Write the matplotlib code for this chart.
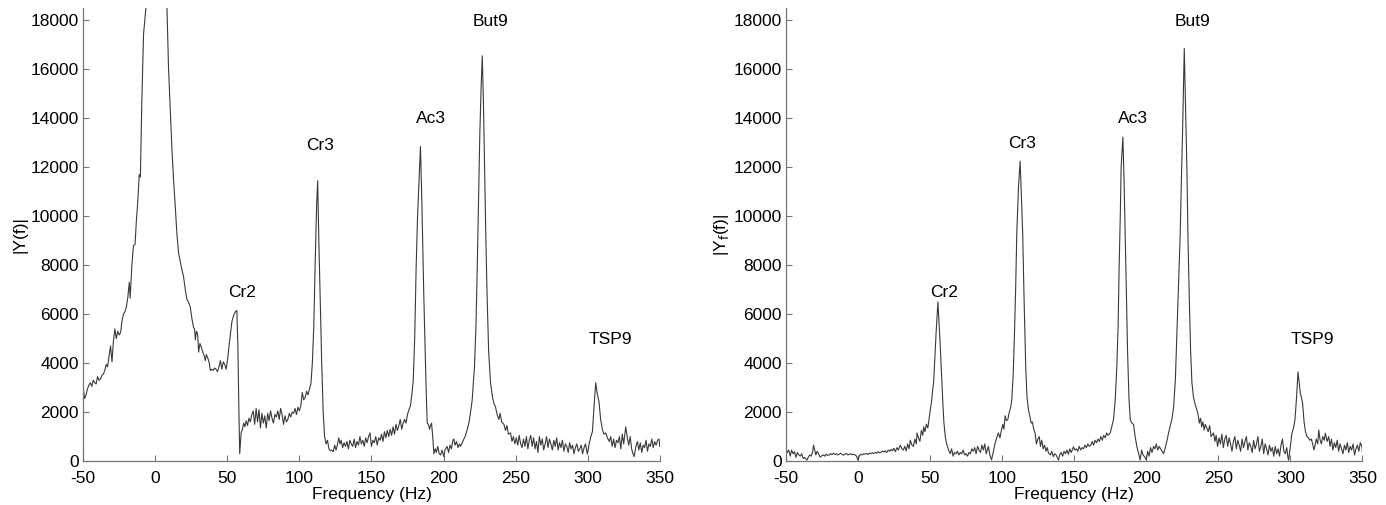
import matplotlib.pyplot as plt

# ---- Left panel: raw spectrum |Y(f)| ----
freq_raw = [
    -50, -49, -48, -47, -46, -45, -44, -43, -42, -41, -40, -39, -38, -37, -36, -35,
    -34, -33, -32, -31, -30, -29, -28, -27, -26, -25, -24, -23, -22, -21, -20, -19,
    -18, -17.4, -16.2, -15.1, -14, -13, -12.2, -11.1, -10.3, -9.3, -8.1, -6.3, -3, 0,
    3, 8.1, 9.2, 10.5, 11.6, 12.8, 13.9, 15, 16.2, 17.5, 18.6, 19.7, 21, 22, 23, 24.3,
    25.5, 26.6, 27.3, 27.8, 28.6, 29.4, 30.1, 31, 32, 33, 34, 34.7, 35.5, 36.5, 37.5,
    38.2, 39.2, 40.2, 41.2, 42.2, 43.2, 44.2, 45.2, 46.2, 47.2, 48.2, 49.2, 50.2, 51.2,
    52.2, 53.2, 54.4, 55.6, 56.6, 57.3, 58, 58.6, 59.6, 60.5, 61.3, 62.2, 63.1, 64, 65,
    66, 67, 68, 69, 70, 71, 72, 73, 74, 75, 76, 77, 78, 79, 80, 81, 82, 83, 84, 85, 86,
    87, 88, 89, 90, 91, 92, 93, 94, 95, 96, 97, 98, 99, 100, 101, 102, 103, 104, 105,
    106, 107, 108, 109, 110, 111, 112, 112.7, 113.5, 114.5, 115.5, 116.5, 117.5, 118.5,
    119.5, 120.5, 121.5, 122.5, 123.5, 124.5, 125.5, 126.5, 127.3, 128.2, 129, 130, 131,
    132, 133, 134, 135, 136, 137, 138, 139, 140, 141, 142, 143, 144, 145, 146, 147, 148,
    149, 150, 151, 152, 153, 154, 155, 156, 157, 158, 159, 160, 161, 162, 163, 164, 165,
    166, 167, 168, 169, 170, 171, 172, 173, 174, 175, 176, 177, 178, 179, 180, 181, 182,
    183, 184, 185, 185.5, 186.3, 187, 188, 188.7, 189.5, 190.3, 191, 191.7, 192.5, 193.3,
    194.2, 195, 196, 197, 198, 199, 200.2, 201, 202.5, 203.5, 204.5, 205.5, 206.5, 207.2,
    208, 209, 210, 211, 211.8, 213, 214.1, 215, 216.5, 217.6, 219, 219.9, 220.8, 221.5,
    222.5, 223.4, 224.3, 225.2, 226.1, 226.9, 227.7, 228.5, 229.4, 230.3, 231.3, 232.6,
    234, 235, 236.1, 237.2, 238.4, 239.3, 240.3, 241.9, 243, 244, 245, 246.5, 247.5,
    248.5, 249.5, 250.5, 251.5, 252.5, 253.5, 254.5, 255.5, 256.5, 257.5, 258.5, 259.5,
    260.5, 261.5, 262.5, 263.5, 264.5, 265.5, 266.5, 267.5, 268.5, 269.5, 270.5, 271.5,
    272.5, 273.5, 274.5, 275.5, 276.5, 277.5, 278.5, 279.5, 280.5, 281.5, 282.5, 283.5,
    284.5, 285.5, 286.5, 287.5, 288.5, 289.5, 290.5, 291.5, 292.5, 293.5, 294.5, 295.5,
    296.5, 297.5, 298.5, 299.8, 301, 302.2, 303.3, 304.5, 305.6, 306.5, 307.9, 309,
    310.2, 311.2, 312.5, 313.7, 315, 316, 317, 318, 319, 320, 321, 322, 323, 324, 325,
    326.4, 327.5, 328.5, 329.5, 330.5, 331.2, 332.2, 333.5, 334.5, 335.5, 336.5, 337.5,
    338.5, 339.5, 340.5, 341.5, 342.5, 343.5, 344.5, 345.5, 346.5, 347.5, 348.5, 349.5,
    350,
]
amp_raw = [
    2980, 2550, 2700, 2950, 3100, 3200, 3050, 3300, 3200, 3150, 3450, 3300, 3350, 3500, 3550, 3700,
    3950, 3850, 4300, 4700, 4050, 4900, 5400, 5000, 5300, 5150, 5250, 5750, 6000, 6100, 6300, 6700,
    7300, 6650, 8000, 8800, 8850, 9900, 10500, 11700, 11600, 14700, 17450, 18600, 26000, 30000,
    26000, 18600, 16100, 14200, 12700, 11400, 10400, 9300, 8500, 8100, 7800, 7500, 6950, 6600, 6500, 6300,
    5800, 5450, 5400, 4950, 5300, 5200, 4450, 4800, 4650, 4450, 4300, 4100, 4350, 4200, 4000,
    3700, 3750, 3700, 3800, 3750, 3650, 3850, 4100, 3750, 4050, 3950, 3750, 4150, 4700,
    5200, 5700, 5950, 6100, 6150, 4800, 2200, 300, 1150, 1300, 1550, 1400, 1650, 1450, 1750,
    1600, 1900, 2050, 1500, 2150, 1600, 2100, 1350, 1950, 1550, 1850, 1350, 1950, 1650, 2050, 1750, 1550, 1900, 1800, 2050, 1700,
    2150, 1900, 1500, 1850, 1600, 1700, 1950, 1800, 2000, 1950, 2150, 1900, 2200, 2050, 2250, 2800, 2500, 2600, 2850,
    2700, 2950, 3150, 4000, 5500, 8200, 10500, 11450, 9000, 6500, 4000, 2000, 1000, 700,
    850, 500, 420, 450, 380, 650, 450, 700, 950, 700, 850, 550, 750,
    600, 800, 500, 850, 700, 600, 900, 550, 800, 650, 1000, 700, 850, 600, 950, 750, 1000,
    1150, 600, 850, 750, 1000, 650, 950, 850, 1100, 800, 1200, 950, 1250, 1000, 1300, 1050, 1400,
    1100, 1500, 1250, 1450, 1700, 1300, 1550, 1700, 1550, 1900, 2100, 2250, 2700, 3300, 5000, 7900, 10000,
    11400, 12850, 10500, 9000, 6800, 5200, 2800, 1550, 1500, 1300, 1450, 1550, 1000, 300,
    500, 350, 600, 300, 250, 450, 180, 450, 600, 350, 650, 500, 850, 900,
    650, 800, 550, 700, 600, 750, 900, 1000, 1300, 1550, 2100, 2500, 3300, 3850,
    5500, 7900, 10700, 13400, 15300, 16550, 14600, 12000, 9000, 6600, 4500, 3200,
    2600, 2350, 2200, 1900, 1700, 1950, 1600, 1500, 1250, 1450, 1100, 1150, 800,
    1000, 700, 950, 650, 1050, 700, 550, 900, 600, 1000, 500, 850,
    1050, 600, 950, 500, 800, 350, 1000, 650, 900, 450, 700, 1000,
    550, 900, 700, 450, 850, 600, 950, 450, 750, 550, 850, 400,
    700, 600, 350, 750, 500, 650, 300, 550, 700, 400, 500, 650,
    300, 550, 700, 280, 700, 1000, 1200, 2300, 3200, 2800, 2400, 1700,
    1300, 1100, 1150, 950, 800, 1000, 600, 900, 550, 850, 750, 1000, 500, 1100, 700,
    1400, 950, 650, 1000, 500, 350, 180, 600, 800, 450, 750, 350,
    650, 550, 850, 400, 700, 600, 900, 550, 800, 650, 850, 900,
    600,
]

# ---- Right panel: filtered spectrum |Y_f(f)| ----
freq_filt = [
    -50, -49, -48, -47, -46, -45, -44, -43, -42, -41, -40, -39, -38, -37, -36, -35.4,
    -34.5, -33.5, -32.5, -31.5, -30.8, -30, -29.2, -28.3, -27.3, -26.2, -25, -24, -23,
    -22, -21, -20, -19, -18, -17, -16, -15, -14, -13, -12, -11, -10, -9, -8, -7, -6, -5,
    -4, -3, -2, -1, 0, 1, 2, 3, 4, 5, 6, 7, 8, 9, 10, 11, 12, 13, 14, 15, 16, 17, 18, 19,
    20, 21, 22, 23, 24, 25, 26, 27, 28, 29.4, 30.5, 31.5, 32.5, 33.5, 34.5, 35.5, 36.3,
    37.5, 38.5, 39.5, 40.5, 41, 42, 43, 44, 45, 45.6, 46.5, 47.5, 48.5, 49.5, 50.2, 51,
    52, 52.5, 53.5, 54.2, 55.5, 56.3, 57.2, 58.8, 59.6, 60.6, 61.5, 62.9, 64, 65, 66, 67,
    68, 69, 70, 71, 72, 73, 74, 75, 76, 77, 78, 79, 80, 81, 82, 83, 84, 85, 86, 87, 88,
    89, 90.5, 91.5, 92.7, 94, 95, 96, 97.4, 98.5, 99.5, 100.5, 101.3, 102.1, 103, 104,
    105, 106, 106.7, 107.7, 108.6, 109.4, 110.2, 111.4, 112.5, 113.3, 114.3, 115.3,
    116.4, 117.3, 118.3, 119.2, 120.2, 121, 122, 122.9, 123.8, 124.8, 125.8, 126.6,
    127.5, 128.5, 129.5, 130.5, 131.3, 132.2, 133.5, 134.5, 135.5, 136.5, 137.5, 138.3,
    139.1, 140, 141, 142, 143, 144, 145, 146, 147, 148, 149.5, 150.5, 151.5, 152.5,
    153.5, 154.5, 155.5, 156.5, 157.5, 158.5, 159.5, 160.5, 161.5, 162.5, 163.5, 164.5,
    165.5, 166.5, 167.5, 168.5, 169.5, 170.5, 171.5, 172.5, 173.5, 175, 176.3, 177.3,
    178.5, 179.6, 180.5, 181.2, 182, 182.6, 183.8, 184.6, 185.4, 186.2, 187, 188, 188.9,
    190, 191.2, 192.3, 193.5, 194.7, 195.8, 196.8, 197.8, 198.8, 200, 201, 202, 203, 204,
    205.1, 206, 207, 208, 209, 210, 211, 212, 213, 214.3, 215.5, 216.7, 217.8, 219,
    220.2, 221.3, 222.5, 223.6, 224.4, 225.2, 225.8, 226.4, 227.3, 228.2, 229, 229.9,
    230.8, 231.7, 232.8, 234, 235.1, 236, 236.8, 237.7, 238.5, 239.3, 240.2, 241, 242,
    243, 244, 245, 246.7, 247.7, 248.5, 249.5, 250.5, 251.5, 252.5, 253.5, 254.5, 255.5,
    256.5, 257.5, 258.5, 259.5, 260.5, 261.5, 262.5, 263.5, 264.5, 265.5, 266.5, 267.5,
    268.5, 269.5, 270.5, 271.5, 272.5, 273.5, 274.5, 275.5, 276.5, 277.5, 278.5, 279.5,
    280.5, 281.5, 282.5, 283.5, 284.5, 285.5, 286.5, 287.5, 288.5, 289.5, 290.5, 291.5,
    292.5, 293.5, 294.5, 295.5, 296.5, 297.5, 298.3, 298.8, 299.8, 301.1, 302.2, 303.2,
    304.3, 305.3, 306.1, 306.9, 307.7, 308.5, 309.5, 310.5, 311.5, 312.5, 313.5, 314.5,
    315.5, 316.3, 317, 318, 319, 319.7, 320.5, 321.5, 322.5, 323.5, 324.3, 325.5, 326.6,
    327.5, 328.5, 329.5, 330.5, 331.5, 332.5, 333.5, 334.5, 335.5, 336.5, 337.5, 338.5,
    339.5, 340.5, 341.5, 342.5, 343.5, 344.5, 345.5, 346.5, 347.5, 348.5, 349.6, 350,
]
amp_filt = [
    550, 350, 450, 200, 450, 300, 380, 150, 350, 250, 200, 300, 100, 150, 80, 40,
    150, 250, 200, 350, 650, 450, 250, 400, 300, 160, 220, 250, 200,
    280, 230, 250, 300, 260, 320, 270, 300, 250, 280, 320, 270, 240, 290, 310, 250, 270, 300,
    260, 280, 250, 200, 40, 220, 280, 250, 300, 280, 310, 270, 320, 300, 340, 310, 350, 320, 380, 340, 360, 410, 370, 420,
    350, 450, 400, 480, 420, 520, 380, 550, 450, 650, 500, 450, 600, 420, 700, 500, 850,
    650, 600, 900, 700, 1150, 950, 800, 1250, 1050, 1400, 1200, 1500, 1350, 1800, 2100, 2400,
    3000, 3200, 4400, 5200, 6500, 5600, 4600, 2500, 1600, 1000, 700, 450, 300, 500, 200, 350,
    300, 400, 250, 350, 300, 450, 250, 300, 200, 350, 300, 500, 400, 550, 300, 600, 450, 350, 650, 450, 700,
    300, 600, 250, 50, 400, 700, 900, 1150, 950, 1250, 1500, 1300, 1850, 1650, 1700,
    2000, 2200, 2500, 3500, 5200, 7000, 9300, 11200, 12250, 11000, 9300, 6500,
    3850, 2600, 2100, 1850, 1550, 1600, 1300, 1150, 700, 900, 1000, 600,
    850, 500, 650, 400, 550, 330, 250, 400, 180, 300, 250, 150,
    40, 250, 350, 200, 400, 300, 450, 280, 500, 350, 580, 450, 500, 400,
    600, 450, 550, 500, 650, 550, 700, 600, 650, 800, 650, 850,
    750, 900, 800, 1000, 850, 1050, 950, 1150, 1050, 1150, 1450, 1700,
    2500, 3850, 5500, 7900, 10000, 12000, 13230, 11500, 9300, 7000, 4600, 2600, 1700,
    1550, 1500, 1000, 600, 300, 40, 450, 250, 180, 50, 400, 200, 550, 350,
    600, 500, 700, 450, 600, 500, 400, 300, 500, 800, 1150, 1450, 1700, 2200,
    3300, 5200, 7300, 9300, 11500, 13400, 15200, 16850, 14500, 12000, 9000, 6600,
    4500, 3200, 2600, 2300, 2100, 1900, 1550, 1750, 1400, 1600, 1270, 1500, 1350,
    1200, 1450, 1000, 1150, 800, 1050, 600, 950, 700, 1100, 550, 900, 1050,
    600, 950, 700, 400, 800, 1000, 500, 850, 650, 400, 900, 550,
    800, 1000, 450, 750, 600, 350, 850, 500, 700, 1000, 400, 600,
    900, 300, 700, 500, 250, 650, 400, 550, 200, 600, 300, 500,
    200, 650, 900, 400, 300, 550, 150, 40, 500, 1140, 1350, 1700,
    2600, 3640, 3200, 2770, 2600, 2350, 1600, 1200, 1000, 950, 850, 900,
    700, 450, 600, 900, 700, 1270, 900, 700, 1000, 850, 1140, 800, 1000,
    600, 900, 450, 750, 550, 850, 400, 700, 500, 300, 650, 450,
    750, 350, 600, 450, 700, 250, 500, 650, 400, 750, 590, 350,
]

# peak labels: (text, freq, amplitude) for each panel
peak_names = ['Cr2', 'Cr3', 'Ac3', 'But9', 'TSP9']
label_freq_raw = [60, 114.5, 191, 232.5, 315.5]
label_amp_raw = [6900, 12900, 14000, 17950, 4950]
label_freq_filt = [59.5, 114, 190.5, 232, 315]
label_amp_filt = [6900, 12950, 14000, 17950, 4950]

plt.rcParams['font.family'] = ['Liberation Sans', 'DejaVu Sans']
plt.rcParams['axes.unicode_minus'] = False

fig = plt.figure(figsize=(13.86, 5.05), dpi=100)
ax1 = fig.add_axes([0.060, 0.087, 0.416, 0.897])
ax2 = fig.add_axes([0.567, 0.087, 0.416, 0.897])

panels = [
    (ax1, freq_raw, amp_raw, label_freq_raw, label_amp_raw, '|Y(f)|'),
    (ax2, freq_filt, amp_filt, label_freq_filt, label_amp_filt, '|Y$_{\\rm f}$(f)|'),
]
for ax, f, a, lf, la, ylab in panels:
    ax.plot(f, a, color='#3a3a3a', linewidth=0.8)
    for name, x, y in zip(peak_names, lf, la):
        ax.text(x, y, name, ha='center', va='center', fontsize=12.5)
    ax.set_xlim(-50, 350)
    ax.set_ylim(0, 18500)
    ax.set_xticks(range(-50, 351, 50))
    ax.set_yticks(range(0, 18001, 2000))
    ax.spines['top'].set_visible(False)
    ax.spines['right'].set_visible(False)
    for s in ('left', 'bottom'):
        ax.spines[s].set_color('#777777')
        ax.spines[s].set_linewidth(0.9)
    ax.tick_params(direction='in', length=4, width=0.8, color='#777777',
                   labelsize=12.5, pad=3)
    ax.tick_params(axis='x', pad=7)
    ax.set_xlabel('Frequency (Hz)', fontsize=12.5, labelpad=1)
    ax.set_ylabel(ylab, fontsize=12.5, labelpad=2)

fig.savefig('out.png', dpi=100)
